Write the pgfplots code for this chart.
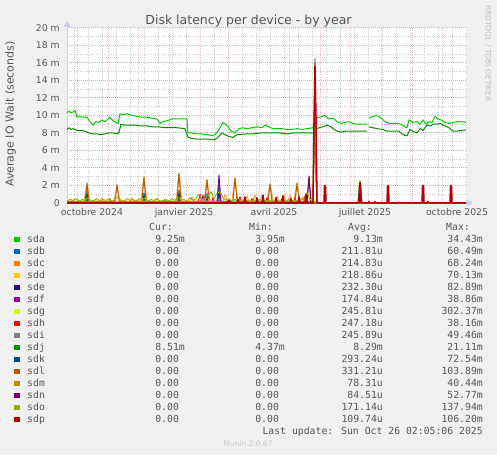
\documentclass[border=0pt]{standalone}
\usepackage{pgfplots}
\pgfplotsset{compat=1.18}
\usepackage{fontspec}
\setmainfont{DejaVu Sans}
\newfontfamily\monof{DejaVu Sans Mono}
\usetikzlibrary{arrows.meta}
\definecolor{bgc}{HTML}{F0F0F0}
\definecolor{txt}{HTML}{555555}
\definecolor{mgrid}{HTML}{F2A4A4}
\definecolor{mgridv}{HTML}{F4B8B8}
\definecolor{ggrid}{HTML}{CCCCCC}
\definecolor{axc}{HTML}{C8D0F4}
\definecolor{csda}{HTML}{00CC00}
\definecolor{csdb}{HTML}{0066B3}
\definecolor{csdc}{HTML}{FF8000}
\definecolor{csdd}{HTML}{FFCC00}
\definecolor{csde}{HTML}{330099}
\definecolor{csdf}{HTML}{990099}
\definecolor{csdg}{HTML}{CCFF00}
\definecolor{csdh}{HTML}{FF0000}
\definecolor{csdi}{HTML}{808080}
\definecolor{csdj}{HTML}{008F00}
\definecolor{csdk}{HTML}{00487D}
\definecolor{csdl}{HTML}{B35A00}
\definecolor{csdm}{HTML}{B38F00}
\definecolor{csdn}{HTML}{6B006B}
\definecolor{csdo}{HTML}{8FB300}
\definecolor{csdp}{HTML}{B30000}
\newcommand\z{0.00\hphantom{m}}
\begin{document}
\begin{tikzpicture}[x=1pt,y=1pt]
\fill[bgc] (0,0) rectangle (497,455);
\begin{axis}[
  at={(67pt,252pt)}, anchor=south west, scale only axis,
  width=400pt, height=175pt,
  xmin=-10, xmax=390, ymin=0, ymax=20,
  clip=false,
  axis background/.style={fill=white},
  axis line style={draw=none},
  xtick={15,107,197,288,380},
  xticklabels={octobre 2024,janvier 2025,avril 2025,juillet 2025,octobre 2025},
  minor xtick={-3,11,...,389},
  extra x ticks={0,31,61,92,123,151,182,212,243,273,304,335,365},
  extra x tick labels={},
  extra x tick style={grid=major, major grid style={draw=mgridv, line width=0.9pt, dash pattern=on 1pt off 1.2pt}},
  xmajorgrids=false, xminorgrids=true,
  ytick={0,2,...,20},
  yticklabels={0,2 m,4 m,6 m,8 m,10 m,12 m,14 m,16 m,18 m,20 m},
  minor ytick={1,3,...,19},
  ymajorgrids=true, yminorgrids=true,
  major grid style={draw=mgrid, line width=1pt, dash pattern=on 1pt off 1pt},
  minor grid style={draw=ggrid, line width=0.9pt, dash pattern=on 1pt off 1.2pt},
  major tick length=0pt, minor tick length=0pt,
  tick label style={font=\fontsize{9.3}{11}\selectfont, text=txt, inner sep=0pt},
  yticklabel style={xshift=-7pt},
  xticklabel style={yshift=-5pt},
  unbounded coords=jump,
  every axis plot/.append style={line width=0.9pt, line join=round},
  no markers,
]
\draw[axc, line width=1pt, -{Triangle[length=6pt,width=7pt]}] (rel axis cs:0,0) -- ([yshift=7pt]rel axis cs:0,1);
\draw[axc, line width=1pt, -{Triangle[length=6pt,width=7pt]}] (rel axis cs:0,0) -- ([xshift=6pt]rel axis cs:1,0);

\addplot[csda, line width=1pt] coordinates {(-10,10.3)(-8,10.5)(-6,10.3)(-4,10.4)(-2,10.6)(0,9.8)(3,9.9)(6,9.8)(10,9.8)(13,9.3)(16,8.9)(19,9.3)(22,9.2)(25,9.5)(28,9.3)(31,9.6)(33,9.8)(36,9.4)(39,9.2)(41,9.1)(43,10.2)(46,10.1)(50,10.2)(55,10.0)(60,9.9)(65,9.8)(70,9.8)(75,9.7)(80,9.6)(83,9.1)(86,9.3)(90,9.4)(95,9.6)(100,9.6)(105,9.6)(110,9.6)(111,8.0)(115,8.0)(120,7.9)(125,7.9)(130,7.8)(135,7.7)(138,7.8)(142,8.4)(146,9.2)(150,8.9)(154,8.2)(158,8.0)(162,8.5)(166,8.6)(170,8.5)(175,8.6)(180,8.7)(185,8.6)(188,8.9)(192,8.7)(196,8.5)(200,8.5)(205,8.5)(210,8.4)(215,8.4)(220,8.5)(225,8.4)(230,8.5)(236,8.6)(239,9.7)(242,9.8)(245,9.9)(248,10.0)(252,9.6)(256,9.7)(260,9.3)(264,9.1)(268,9.2)(272,9.3)(276,9.1)(280,9.0)(284,9.0)(288,9.0)(290,9.0)(291,nan)(292,9.7)(296,9.9)(300,10.0)(304,9.7)(308,9.3)(312,9.1)(316,9.1)(320,9.1)(324,9.0)(328,8.7)(330,8.6)(332,9.5)(336,9.2)(340,9.3)(343,9.0)(346,9.5)(349,9.0)(352,9.3)(355,9.2)(358,9.9)(361,9.6)(364,9.5)(368,9.2)(372,9.1)(376,9.2)(380,9.3)(385,9.3)(389,9.2)};

\addplot[csdb] coordinates {(-10,0)(9,0)(10,1.0)(11,0)(101,0)(102,1.2)(103,0)(238,0)(389,0)};

\addplot[csdc!70!white, line width=1.1pt] coordinates {(-10,0.2)(7,0.2)(8.5,1.2)(10,2.3)(11.5,1.2)(13,0.2)(23,0.2)(25,0.6)(27,0.2)(37,0.2)(38.5,1.1)(40,2.1)(41.5,1.1)(43,0.2)(53,0.2)(55,0.6)(57,0.2)(64,0.2)(65.5,1.6)(67,3.0)(68.5,1.6)(70,0.2)(78,0.2)(80,0.5)(82,0.2)(99,0.2)(100.5,1.8)(102,3.4)(103.5,1.8)(105,0.2)(113,0.2)(115,0.7)(117,0.2)(127,0.2)(128.5,1.4)(130,2.7)(131.5,1.4)(133,0.2)(146,0.2)(148,1.0)(150,0.2)(155,0.2)(156.5,1.5)(158,2.9)(159.5,1.5)(161,0.2)(168,0.2)(170,0.8)(172,0.2)(176,0.2)(178,0.9)(180,0.2)(183,0.2)(185,0.9)(187,0.2)(190,0.2)(191.5,1.2)(193,2.2)(194.5,1.2)(196,0.2)(198,0.2)(200,0.8)(202,0.2)(205,0.2)(207,0.9)(209,0.2)(211,0.2)(213,0.9)(215,0.2)(217,0.2)(218.5,1.2)(220,2.3)(221.5,1.2)(223,0.2)(224,0.2)(226,0.7)(228,0.2)(238,0.2)(240,0)(389,0)};

\addplot[csdd] coordinates {(-10,0)(60,0)(61,0.3)(62,0)(389,0)};

\addplot[csde] coordinates {(-10,0)(140,0)(141,1.5)(142,3.2)(143,1.5)(144,0)(281,0)(282,1.2)(283,2.5)(284,1.2)(285,0)(389,0)};

\addplot[csdf] coordinates {(-10,0)(124,0)(126,0.9)(128,0)(140,0)(141,1.4)(142,2.8)(143,1.4)(144,0)(230,0)(231,1.5)(232,2.9)(233,1.5)(234,0)(389,0)};

\addplot[csdg] coordinates {(-10,0)(234,0)(235,1.5)(236,3.0)(237,0)(281,0)(282,1.4)(283,2.7)(284,1.4)(285,0)(350,0)(351,0.3)(352,0)(389,0)};

\addplot[csdh] coordinates {(-10,0)(121,0)(123,1.0)(125,0)(134,0)(136,0.6)(138,0)(161,0)(163,0.7)(165,0)(173,0)(175,0.5)(177,0)(188,0)(190,0.6)(192,0)(203,0)(205,0.5)(207,0)(216,0)(218,0.6)(220,0)(226,0)(228,0.8)(230,0)(389,0)};

\addplot[csdi] coordinates {(-10,0)(389,0)};

\addplot[csdj, line width=1pt] coordinates {(-10,8.4)(-8,8.6)(-6,8.4)(-4,8.5)(-2,8.4)(0,8.3)(4,8.3)(8,8.2)(12,8.0)(16,7.9)(20,7.9)(24,7.8)(28,7.9)(32,8.0)(36,8.0)(40,7.9)(42,8.1)(44,9.0)(47,8.9)(52,8.9)(58,8.9)(64,8.8)(70,8.8)(76,8.7)(82,8.7)(88,8.6)(94,8.6)(100,8.6)(108,8.5)(111,7.5)(114,7.4)(120,7.3)(126,7.3)(132,7.3)(136,7.2)(140,7.4)(145,8.0)(148,7.8)(152,7.6)(156,7.5)(160,7.8)(164,7.85)(170,7.9)(176,7.9)(183,8.0)(190,8.0)(196,8.0)(203,8.0)(210,7.9)(216,8.0)(222,8.0)(228,8.0)(236,8.0)(239,8.4)(242,8.6)(246,8.7)(250,8.9)(254,8.7)(256,8.5)(260,8.2)(264,8.1)(268,8.2)(274,8.2)(280,8.2)(286,8.2)(290,8.2)(291,nan)(292,8.7)(296,8.6)(300,8.5)(306,8.4)(310,8.2)(316,8.2)(322,8.2)(325,7.9)(328,7.7)(330,7.7)(333,8.4)(336,8.2)(340,8.0)(343,8.5)(346,8.3)(350,8.9)(353,8.8)(356,9.0)(360,9.0)(363,9.1)(368,8.8)(372,8.6)(376,8.2)(380,8.2)(384,8.3)(389,8.35)};

\addplot[csdk] coordinates {(-10,0)(9,0)(10,1.4)(11,0)(66,0)(67,1.2)(68,0)(101,0)(102,1.5)(103,0)(129,0)(130,1.1)(131,0)(141,0)(142,1.8)(143,0)(281,0)(283,2.4)(285,0)(389,0)};

\addplot[csdl] coordinates {(-10,0.15)(8,0.15)(10,2.25)(12,0.15)(38,0.15)(40,2.05)(42,0.15)(65,0.15)(67,2.95)(69,0.15)(100,0.15)(102,3.35)(104,0.15)(128,0.15)(130,2.65)(132,0.15)(156,0.15)(158,2.85)(160,0.15)(191,0.15)(193,2.15)(195,0.15)(218,0.15)(220,2.25)(222,0.15)(236,0.15)(237,5)(238,14.5)(239,3)(240,0)(389,0)};

\addplot[csdm] coordinates {(-10,0.1)(20,0.2)(31,0.1)(33,0.5)(35,0.1)(60,0.2)(86,0.1)(88,0.4)(90,0.1)(120,0.2)(158,0.1)(160,0.6)(162,0.1)(200,0.2)(238,0.1)(240,0)(389,0)};

\addplot[csdn] coordinates {(-10,0)(230,0)(231,1.5)(232,3.1)(233,1.5)(234,0)(236,0)(237,8)(238,16.5)(239,4)(240,0)(389,0)};

\addplot[csdo] coordinates {(-10,0.2)(-7,0.4)(-4,0.3)(-1,0.5)(2,0.2)(5,0.4)(8,0.3)(11,0.6)(14,0.2)(17,0.3)(20,0.5)(23,0.2)(26,0.4)(29,0.3)(32,0.5)(35,0.2)(38,0.4)(41,0.7)(44,0.3)(47,0.2)(50,0.5)(53,0.3)(56,0.4)(59,0.2)(62,0.5)(65,0.3)(68,0.6)(71,0.2)(74,0.4)(77,0.3)(80,0.5)(83,0.2)(86,0.3)(89,0.4)(92,0.2)(95,0.5)(98,0.3)(101,0.7)(104,0.3)(107,0.4)(110,0.2)(113,0.6)(116,0.3)(119,0.5)(122,1.0)(125,0.4)(128,0.3)(131,0.8)(134,1.3)(137,0.5)(140,1.1)(143,1.3)(146,0.6)(149,0.3)(152,0.5)(155,0.2)(158,0.4)(161,0.3)(164,0.2)(167,0.4)(170,0.3)(173,0.2)(176,0.3)(179,0.2)(182,0.4)(185,0.2)(188,0.3)(191,0.2)(194,0.3)(197,0.2)(200,0.3)(203,0.2)(206,0.3)(209,0.2)(212,0.4)(215,0.2)(218,0.3)(221,0.2)(224,0.5)(227,0.3)(230,1.2)(233,0.4)(236,0.5)(237,6)(238,16.0)(239,3)(240,0)(389,0)};

\addplot[csdp, line width=1.5pt] coordinates {(-10,0)(150,0)(152,0.3)(154,0)(160,0)(161,0.4)(162,0)(167,0)(168,0.7)(169,0)(179,0)(180,0.6)(181,0)(185,0)(186,0.9)(187,0)(198,0)(199,0.6)(200,0)(205,0)(206,0.8)(207,0)(213,0)(214,0.5)(215,0)(221,0)(222,0.7)(223,0)(228,0)(229,1.0)(230,0)(236,0)(237,9)(238,15.6)(239,10)(240,0)(247,0)(247.5,1.9)(248,2.0)(248.5,1.9)(249,0)(282,0)(282.5,2.1)(283,2.3)(283.5,2.1)(284,0)(291,0)(292,0.15)(293,0)(297,0)(298,0.15)(299,0)(310,0)(310.5,1.9)(311,2.0)(311.5,1.9)(312,0)(321,0)(322,0.1)(323,0)(345,0)(345.5,1.9)(346,2.0)(346.5,1.9)(347,0)(350,0)(351,0.15)(352,0)(373,0)(373.5,1.9)(374,2.0)(374.5,1.9)(375,0)(389,0)};
\end{axis}
\node[anchor=base, font=\fontsize{12.5}{14}\selectfont, text=txt] at (248.5,430) {Disk latency per device - by year};
\node[rotate=90, anchor=center, font=\fontsize{11}{13}\selectfont, text=txt] at (10.5,341) {Average IO Wait (seconds)};
\node[rotate=-90, anchor=center, font=\fontsize{7.5}{9}\selectfont, text={rgb,255:red,192;green,192;blue,192}] at (488,401.5) {RRDTOOL / TOBI OETIKER};
\begin{scope}[font=\monof\fontsize{9.8}{11}\selectfont, text=txt, every node/.style={inner sep=0pt}]
\node[anchor=base east] at (173,224.3) {Cur:};
\node[anchor=base east] at (273,224.3) {Min:};
\node[anchor=base east] at (372,224.3) {Avg:};
\node[anchor=base east] at (470,224.3) {Max:};
\foreach \c/\n/\a/\b/\d/\e [count=\i from 0] in {
  csda/sda/9.25m/3.95m/9.13m/34.43m,
  csdb/sdb/\z/\z/211.81u/60.49m,
  csdc/sdc/\z/\z/214.83u/68.24m,
  csdd/sdd/\z/\z/218.86u/70.13m,
  csde/sde/\z/\z/232.30u/82.89m,
  csdf/sdf/\z/\z/174.84u/38.86m,
  csdg/sdg/\z/\z/245.81u/302.37m,
  csdh/sdh/\z/\z/247.18u/38.16m,
  csdi/sdi/\z/\z/245.89u/49.46m,
  csdj/sdj/8.51m/4.37m/8.29m/21.11m,
  csdk/sdk/\z/\z/293.24u/72.54m,
  csdl/sdl/\z/\z/331.21u/103.89m,
  csdm/sdm/\z/\z/78.31u/40.44m,
  csdn/sdn/\z/\z/84.51u/52.77m,
  csdo/sdo/\z/\z/171.14u/137.94m,
  csdp/sdp/\z/\z/109.74u/106.20m}{
  \pgfmathsetmacro\yy{212.5-12*\i}
  \fill[\c] (14,\yy+0.3) rectangle ++(5.5,5.5);
  \node[anchor=base west] at (27,\yy) {\n};
  \node[anchor=base east] at (185,\yy) {\a};
  \node[anchor=base east] at (285,\yy) {\b};
  \node[anchor=base east] at (383,\yy) {\d};
  \node[anchor=base east] at (483,\yy) {\e};
}
\node[anchor=base east] at (483,21) {Last update: Sun Oct 26 02:05:06 2025};
\end{scope}
\node[anchor=base, inner sep=0pt, font=\fontsize{7.5}{9}\selectfont, text={rgb,255:red,200;green,200;blue,200}] at (248,8.3) {Munin 2.0.67};
\end{tikzpicture}
\end{document}
